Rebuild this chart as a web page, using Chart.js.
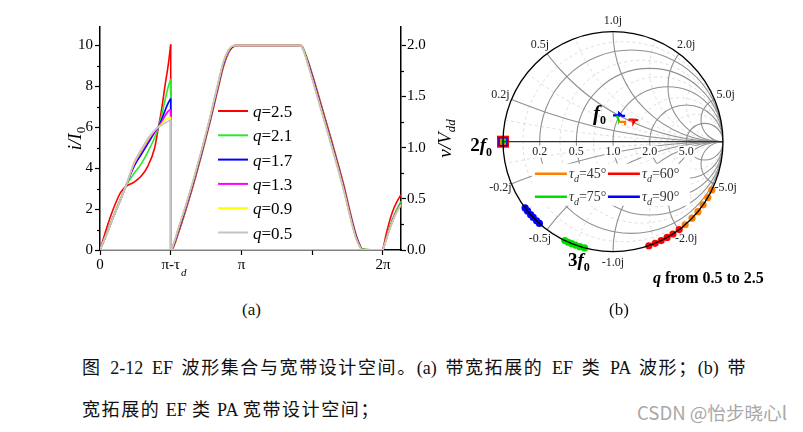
<!DOCTYPE html>
<html><head><meta charset="utf-8">
<script src="https://cdn.jsdelivr.net/npm/chart.js@4.4.1/dist/chart.umd.min.js"></script>
<style>
html,body{margin:0;padding:0;background:#fff;width:803px;height:432px;overflow:hidden;position:relative}
#ca{position:absolute;left:0;top:0;width:480px;height:300px}
#cb{position:absolute;left:430px;top:0;width:373px;height:300px}
.lbl{position:absolute;font-family:"Liberation Serif","Noto Sans CJK SC",serif;color:#111;white-space:nowrap;line-height:20px}
.wm{position:absolute;font-family:"Noto Sans CJK SC","Liberation Sans",sans-serif;color:#a8a8a8;white-space:nowrap;font-size:18px;line-height:22px}
</style></head><body>
<canvas id="ca" width="480" height="300"></canvas>
<canvas id="cb" width="373" height="300"></canvas>
<div class="lbl" style="left:242px;top:300px;font-size:17px">(a)</div>
<div class="lbl" style="left:609px;top:300px;font-size:17px">(b)</div>
<div class="lbl" id="cap1" style="left:82px;top:358px;font-size:18px">图 2-12 EF 波形集合与宽带设计空间。(a) 带宽拓展的 EF 类 PA 波形；(b) 带</div>
<div class="lbl" id="cap2" style="left:82px;top:400px;font-size:18px">宽拓展的 EF 类 PA 宽带设计空间；</div>
<div class="wm" id="wm" style="left:637px;top:401px">CSDN @怡步晓心l</div>
<script>
// ---------------- Panel (a) data ----------------
const qLabels = ['2.5','2.1','1.7','1.3','0.9','0.5'];
const qColors = ['#ff0000','#2ee82e','#0000ff','#ff00ff','#ffff00','#c4c4c4'];
const xTicks = [0, 90, 180, 270, 360];
const xTickLabels = ['0', 'π-τ', 'π', '', '2π'];
const yTicks = [0, 2, 4, 6, 8, 10];
const yMinor = [1, 3, 5, 7, 9];
const y2Ticks = [0, 0.5, 1.0, 1.5, 2.0];
const y2Minor = [0.25, 0.75, 1.25, 1.75];

const dropDeg = 90;     // π - τd
const periodDeg = 360;  // 2π

// current i/I0 from 0 to π-τd
const riseDeg = [0, 8.7, 17.4, 26.1, 32.6, 43.5, 52.2, 60.9, 69.6, 73.9, 78.3, 82.6, 87, 90];
const iRise25 = [0, 1.10, 2.05, 2.80, 3.10, 3.32, 3.60, 4.10, 5.00, 5.90, 6.85, 8.00, 9.10, 10.05];
const iRise21 = [0, 0.85, 1.70, 2.50, 3.10, 3.75, 4.20, 4.80, 5.50, 5.95, 6.55, 7.30, 8.00, 8.35];
const iRise17 = [0, 0.80, 1.65, 2.45, 3.10, 4.10, 4.65, 5.20, 5.75, 6.00, 6.35, 6.80, 7.20, 7.40];
const iRise13 = [0, 0.80, 1.65, 2.45, 3.10, 4.20, 4.80, 5.35, 5.80, 6.00, 6.25, 6.55, 6.80, 6.85];
const iRise09 = [0, 0.80, 1.65, 2.45, 3.10, 4.25, 4.85, 5.40, 5.85, 6.00, 6.15, 6.35, 6.45, 6.50];
const iRise05 = [0, 0.80, 1.65, 2.45, 3.10, 4.30, 4.90, 5.45, 5.85, 6.00, 6.10, 6.20, 6.30, 6.35];
const iRise = [iRise25, iRise21, iRise17, iRise13, iRise09, iRise05];

// current after 2π
const endDeg = [360, 364, 368, 372, 377, 383];
const iEnd25 = [0, 0.75, 1.35, 1.85, 2.30, 2.70];
const iEnd21 = [0, 0.55, 1.05, 1.50, 1.95, 2.38];
const iEnd17 = [0, 0.50, 0.98, 1.40, 1.85, 2.25];
const iEnd13 = [0, 0.50, 0.98, 1.40, 1.85, 2.25];
const iEnd09 = [0, 0.48, 0.95, 1.38, 1.82, 2.22];
const iEnd05 = [0, 0.47, 0.94, 1.36, 1.80, 2.20];
const iEnd = [iEnd25, iEnd21, iEnd17, iEnd13, iEnd09, iEnd05];

// voltage v/Vdd
const vDeg = [0, 90, 93, 100, 110, 120, 130, 140, 150, 157, 163, 168, 174, 255, 258, 265, 280, 295, 310, 318, 325, 330, 334, 360];
const v25 = [0,0,0.02,0.17,0.41,0.67,0.95,1.25,1.57,1.79,1.92,1.98,2.00, 2.00,1.98,1.84,1.46,1.06,0.64,0.38,0.17,0.06,0.01,0];
const v21 = [0,0,0.03,0.19,0.43,0.69,0.97,1.27,1.59,1.81,1.93,1.98,2.00, 2.00,1.98,1.83,1.44,1.04,0.62,0.36,0.15,0.05,0.01,0];
const v17 = [0,0,0.04,0.20,0.44,0.70,0.98,1.28,1.60,1.82,1.94,1.98,2.00, 2.00,1.97,1.82,1.43,1.03,0.61,0.35,0.15,0.05,0,0];
const v13 = [0,0,0.04,0.21,0.45,0.71,0.99,1.29,1.61,1.83,1.94,1.99,2.00, 2.00,1.97,1.81,1.42,1.02,0.60,0.34,0.14,0.04,0,0];
const v09 = [0,0,0.05,0.22,0.46,0.72,1.00,1.30,1.62,1.84,1.95,1.99,2.00, 2.00,1.97,1.80,1.41,1.01,0.59,0.33,0.13,0.04,0,0];
const v05 = [0,0,0.05,0.22,0.46,0.72,1.00,1.30,1.63,1.84,1.95,1.99,2.00, 2.00,1.97,1.80,1.40,1.00,0.58,0.33,0.13,0.04,0,0];
const vVals = [v25, v21, v17, v13, v09, v05];

// ---------------- Panel (b) data ----------------
const tauLabels = ['45°', '60°', '75°', '90°'];
const tauColors = ['#ff8000', '#ff0000', '#00e000', '#0000ff'];
// fundamental impedance trajectories (reflection coefficient)
const f1Re = [[0.05,0.07,0.09,0.11,0.11,0.11],[0.14,0.165,0.185,0.185,0.205,0.23],[0.03,0.04,0.045,0.05,0.055,0.055],[0.0,0.03,0.055,0.055,0.085,0.11]];
const f1Im = [[0.18,0.18,0.18,0.18,0.165,0.15],[0.20,0.20,0.20,0.17,0.20,0.195],[0.235,0.225,0.21,0.20,0.19,0.18],[0.24,0.24,0.24,0.26,0.235,0.235]];
// 2nd harmonic (short)
const f2Re = [-1, -1, -1, -1];
const f2Im = [0, 0, 0, 0];
// 3rd harmonic
const f3Re = [[0.656,0.719,0.772,0.819,0.862,0.899],[0.326,0.383,0.438,0.492,0.545,0.602],[-0.259,-0.301,-0.342,-0.375,-0.407,-0.438],[-0.669,-0.695,-0.725,-0.749,-0.777,-0.799]];
const f3Im = [[-0.755,-0.695,-0.636,-0.574,-0.508,-0.438],[-0.946,-0.924,-0.899,-0.870,-0.839,-0.799],[-0.966,-0.954,-0.940,-0.927,-0.914,-0.899],[-0.743,-0.719,-0.688,-0.663,-0.629,-0.602]];
// Smith grid values
const smithMajor = [0.2, 0.5, 1.0, 2.0, 5.0];
const smithMinor = [0.1, 0.35, 0.7, 1.5, 3.0];

const SERIF = '"Liberation Serif", serif';

// ---------- helpers ----------
function drawRich(ctx, parts, x, y, rot, align) {
  ctx.save();
  ctx.translate(x, y);
  ctx.rotate(rot || 0);
  ctx.textBaseline = 'alphabetic';
  ctx.textAlign = 'left';
  let w = 0;
  parts.forEach(p => { ctx.font = p.font; w += ctx.measureText(p.t).width; });
  let cx = align === 'left' ? 0 : align === 'right' ? -w : -w / 2;
  parts.forEach(p => {
    ctx.font = p.font;
    ctx.fillStyle = p.color || '#000';
    ctx.fillText(p.t, cx, p.dy || 0);
    cx += ctx.measureText(p.t).width;
  });
  ctx.restore();
}

// ---------- Chart (a) ----------
const dsA = [];
qLabels.forEach((q, k) => {
  const col = qColors[k];
  const ord = 10 - k;
  const iv = iRise[k];
  const base = {borderColor: col, backgroundColor: col, borderWidth: 1.6, pointRadius: 0, fill: false, order: ord};
  dsA.push(Object.assign({}, base, {yAxisID: 'y', cubicInterpolationMode: 'monotone',
    data: riseDeg.map((d, i) => ({x: d, y: iv[i]}))}));
  dsA.push(Object.assign({}, base, {yAxisID: 'y', tension: 0,
    data: [{x: dropDeg, y: iv[iv.length - 1]}, {x: dropDeg, y: 0}, {x: periodDeg, y: 0}]}));
  dsA.push(Object.assign({}, base, {yAxisID: 'y', cubicInterpolationMode: 'monotone',
    data: endDeg.map((d, i) => ({x: d, y: iEnd[k][i]}))}));
  dsA.push(Object.assign({}, base, {yAxisID: 'y2', cubicInterpolationMode: 'monotone',
    data: vDeg.map((d, i) => ({x: d, y: vVals[k][i]}))}));
});

const annotA = {
  id: 'annotA',
  afterDraw(chart) {
    const ctx = chart.ctx;
    const {x, y, y2} = chart.scales;
    // minor ticks
    ctx.save();
    ctx.strokeStyle = '#000'; ctx.lineWidth = 1.2;
    yMinor.forEach(v => { const py = Math.round(y.getPixelForValue(v)) + 0.5; ctx.beginPath(); ctx.moveTo(x.left - 3, py); ctx.lineTo(x.left, py); ctx.stroke(); });
    y2Minor.forEach(v => { const py = Math.round(y2.getPixelForValue(v)) + 0.5; ctx.beginPath(); ctx.moveTo(x.right, py); ctx.lineTo(x.right + 3, py); ctx.stroke(); });
    ctx.restore();
    // subscript d for the π-τ tick label
    ctx.save();
    ctx.font = '15px ' + SERIF;
    const w = ctx.measureText(xTickLabels[1]).width;
    ctx.restore();
    drawRich(ctx, [{t: 'd', font: 'italic 11px ' + SERIF}], x.getPixelForValue(xTicks[1]) + w / 2 + 1, 276, 0, 'left');
    // axis titles
    drawRich(ctx, [{t: 'i/I', font: 'italic 19px ' + SERIF}, {t: '0', font: '13px ' + SERIF, dy: 4}], 81, (y.top + y.bottom) / 2, -Math.PI / 2);
    drawRich(ctx, [{t: 'v/V', font: 'italic 19px ' + SERIF}, {t: 'dd', font: 'italic 13px ' + SERIF, dy: 4}], 451, (y.top + y.bottom) / 2, -Math.PI / 2);
    // legend
    const rowTop = y.top + 84, rowStep = 24.3;
    qLabels.forEach((q, k) => {
      const ry = rowTop + k * rowStep;
      ctx.save();
      ctx.strokeStyle = qColors[k]; ctx.lineWidth = 2;
      ctx.beginPath(); ctx.moveTo(218, ry); ctx.lineTo(248, ry); ctx.stroke();
      ctx.restore();
      drawRich(ctx, [{t: 'q', font: 'italic 17px ' + SERIF}, {t: '=' + q, font: '17px ' + SERIF}], 253, ry + 6, 0, 'left');
    });
  }
};

new Chart(document.getElementById('ca'), {
  type: 'line',
  data: {datasets: dsA},
  options: {
    responsive: false, animation: false, events: [],
    layout: {padding: {top: 27, left: 0, right: 0, bottom: 0}},
    plugins: {legend: {display: false}, tooltip: {enabled: false}},
    scales: {
      x: {type: 'linear', min: 0, max: 383,
        afterBuildTicks: s => { s.ticks = xTicks.map(v => ({value: v})); },
        afterFit: s => { s.height = 50; },
        ticks: {autoSkip: false, maxRotation: 0, padding: 1, color: '#000', font: {family: SERIF, size: 15},
          callback: (v, i) => xTickLabels[i]},
        grid: {drawOnChartArea: false, drawTicks: true, tickLength: 5, tickColor: '#000', tickWidth: 1.2},
        border: {display: true, color: '#000', width: 1.5}},
      y: {type: 'linear', position: 'left', min: 0, max: 10.9,
        afterBuildTicks: s => { s.ticks = yTicks.map(v => ({value: v})); },
        afterFit: s => { s.width = 100; },
        ticks: {padding: 2, color: '#000', font: {family: SERIF, size: 15}, callback: v => String(v)},
        grid: {drawOnChartArea: false, drawTicks: true, tickLength: 5, tickColor: '#000', tickWidth: 1.2},
        border: {display: true, color: '#000', width: 1.5}},
      y2: {type: 'linear', position: 'right', min: 0, max: 2.18,
        afterBuildTicks: s => { s.ticks = y2Ticks.map(v => ({value: v})); },
        afterFit: s => { s.width = 79; },
        ticks: {padding: 1, color: '#000', font: {family: SERIF, size: 15}, callback: v => Number(v).toFixed(1)},
        grid: {drawOnChartArea: false, drawTicks: true, tickLength: 5, tickColor: '#000', tickWidth: 1.2},
        border: {display: true, color: '#000', width: 1.5}}
    }
  },
  plugins: [annotA]
});

// ---------- Chart (b) Smith chart ----------
const dsB = [];
tauLabels.forEach((t, k) => {
  dsB.push({data: f3Re[k].map((r, i) => ({x: r, y: f3Im[k][i]})), backgroundColor: tauColors[k], borderColor: tauColors[k],
    pointRadius: 3.6, pointBorderWidth: 0, showLine: false, clip: false, order: 5});
  dsB.push({data: f1Re[k].map((r, i) => ({x: r, y: f1Im[k][i]})), borderColor: tauColors[k], backgroundColor: tauColors[k],
    pointRadius: 0, borderWidth: 2.2, showLine: true, tension: 0, clip: false, order: 5});
});
const f2Order = [1, 3, 0, 2];           // red largest, then blue, orange, green
const f2Radius = [8.5, 6.5, 4.5, 3];
f2Order.forEach((k, j) => {
  dsB.push({data: [{x: f2Re[k], y: f2Im[k]}], pointStyle: 'rect', pointRadius: f2Radius[j], backgroundColor: tauColors[k],
    borderColor: tauColors[k], pointBorderWidth: 0, showLine: false, clip: false, order: 4 - j});
});

const smithPlugin = {
  id: 'smith',
  beforeDatasetsDraw(chart) {
    const ctx = chart.ctx;
    const {x, y} = chart.scales;
    const cx = x.getPixelForValue(0), cy = y.getPixelForValue(0);
    const R = x.getPixelForValue(1) - cx;
    const rCircle = r => { ctx.beginPath(); ctx.arc(x.getPixelForValue(r / (1 + r)), cy, R / (1 + r), 0, 2 * Math.PI); ctx.stroke(); };
    const xArc = v => { ctx.beginPath(); ctx.arc(x.getPixelForValue(1), y.getPixelForValue(1 / v), R / Math.abs(v), 0, 2 * Math.PI); ctx.stroke(); };
    ctx.save();
    ctx.beginPath(); ctx.arc(cx, cy, R, 0, 2 * Math.PI); ctx.clip();
    ctx.setLineDash([3, 3]); ctx.strokeStyle = '#d4d4d4'; ctx.lineWidth = 0.8;
    smithMinor.forEach(v => { rCircle(v); xArc(v); xArc(-v); });
    ctx.setLineDash([]); ctx.strokeStyle = '#919191'; ctx.lineWidth = 1.1;
    smithMajor.forEach(v => { rCircle(v); xArc(v); xArc(-v); });
    ctx.restore();
    // real-axis labels with white background
    ctx.save();
    ctx.font = '12px ' + SERIF; ctx.textAlign = 'center'; ctx.textBaseline = 'middle';
    smithMajor.forEach(r => {
      const px = x.getPixelForValue((r - 1) / (r + 1));
      const txt = r.toFixed(1);
      const w = ctx.measureText(txt).width;
      ctx.fillStyle = '#fff'; ctx.fillRect(px - w / 2 - 1, cy + 4, w + 2, 12);
      ctx.fillStyle = '#222'; ctx.fillText(txt, px, cy + 10);
    });
    ctx.restore();
    // legend box
    const lx = x.getPixelForValue(-0.71), ly = y.getPixelForValue(-0.2);
    ctx.save();
    ctx.fillStyle = '#fff';
    ctx.fillRect(lx - 3, ly, 158, 42);
    const cols = [0, 73], rows = [10, 33];
    tauLabels.forEach((t, k) => {
      const bx = lx + cols[k % 2], by = ly + rows[Math.floor(k / 2)];
      ctx.strokeStyle = tauColors[k]; ctx.lineWidth = 2.5;
      ctx.beginPath(); ctx.moveTo(bx, by); ctx.lineTo(bx + 32, by); ctx.stroke();
      drawRich(ctx, [{t: 'τ', font: 'italic 14px ' + SERIF, color: '#333'}, {t: 'd', font: 'italic 10px ' + SERIF, dy: 4, color: '#333'},
        {t: '=' + t, font: '14px ' + SERIF, color: '#333'}], bx + 34, by + 4, 0, 'left');
    });
    ctx.restore();
  },
  afterDatasetsDraw(chart) {
    const ctx = chart.ctx;
    const {x, y} = chart.scales;
    const cx = x.getPixelForValue(0), cy = y.getPixelForValue(0);
    const R = x.getPixelForValue(1) - cx;
    ctx.save();
    ctx.strokeStyle = '#333'; ctx.lineWidth = 1.3;
    ctx.beginPath(); ctx.moveTo(x.getPixelForValue(-1), cy); ctx.lineTo(x.getPixelForValue(1), cy); ctx.stroke();
    ctx.strokeStyle = '#000'; ctx.lineWidth = 1.3;
    ctx.beginPath(); ctx.arc(cx, cy, R, 0, 2 * Math.PI); ctx.stroke();
    // reactance labels
    ctx.font = '12px ' + SERIF; ctx.fillStyle = '#222'; ctx.textAlign = 'center'; ctx.textBaseline = 'middle';
    smithMajor.forEach(v => {
      [v, -v].forEach(xv => {
        const gr = (xv * xv - 1) / (xv * xv + 1), gi = 2 * xv / (xv * xv + 1);
        const px = x.getPixelForValue(gr) + gr * 12, py = y.getPixelForValue(gi) - gi * 11;
        ctx.fillText(xv.toFixed(1) + 'j', px, py);
      });
    });
    ctx.restore();
    // harmonic labels
    const B = 'bold ', BI = 'bold italic ';
    drawRich(ctx, [{t: 'f', font: BI + '21px ' + SERIF}, {t: '0', font: B + '12px ' + SERIF, dy: 4}],
      x.getPixelForValue(-0.064), y.getPixelForValue(0.197), 0, 'right');
    drawRich(ctx, [{t: '2', font: B + '19px ' + SERIF}, {t: 'f', font: BI + '19px ' + SERIF}, {t: '0', font: B + '12px ' + SERIF, dy: 5}],
      x.getPixelForValue(-1.1), y.getPixelForValue(-0.085), 0, 'right');
    drawRich(ctx, [{t: '3', font: B + '19px ' + SERIF}, {t: 'f', font: BI + '19px ' + SERIF}, {t: '0', font: B + '12px ' + SERIF, dy: 5}],
      x.getPixelForValue(-0.41), y.getPixelForValue(-1.13), 0, 'left');
    drawRich(ctx, [{t: 'q', font: BI + '16px ' + SERIF}, {t: ' from 0.5 to 2.5', font: B + '16px ' + SERIF}],
      x.getPixelForValue(0.364), y.getPixelForValue(-1.285), 0, 'left');
  }
};

new Chart(document.getElementById('cb'), {
  type: 'scatter',
  data: {datasets: dsB},
  options: {
    responsive: false, animation: false, events: [],
    layout: {padding: {left: 73, right: 80, top: 31.7, bottom: 48.3}},
    plugins: {legend: {display: false}, tooltip: {enabled: false}},
    scales: {
      x: {type: 'linear', min: -1, max: 1, display: false},
      y: {type: 'linear', min: -1, max: 1, display: false}
    }
  },
  plugins: [smithPlugin]
});

// caption layout: CJK pitch ~20px, remaining width taken up by the spaces
function fitWidth(id, target) {
  const el = document.getElementById(id);
  const txt = el.textContent;
  el.innerHTML = txt.replace(/([\u3000-\u303f\u4e00-\u9fff\uff00-\uffef]+)/g, '<span class="cj">$1</span>');
  el.querySelectorAll('.cj').forEach(s => { s.style.letterSpacing = '1.6px'; });
  const nat = el.getBoundingClientRect().width;
  const nSp = (txt.match(/ /g) || []).length;
  const ws = Math.max(0, (target - nat) / nSp);
  el.style.wordSpacing = ws + 'px';
}
fitWidth('cap1', 665);
fitWidth('cap2', 298);
// watermark width ~150px
(function () {
  const el = document.getElementById('wm');
  const w = el.getBoundingClientRect().width;
  if (w > 0) el.style.fontSize = (18 * 150 / w).toFixed(2) + 'px';
})();
</script>
</body></html>
